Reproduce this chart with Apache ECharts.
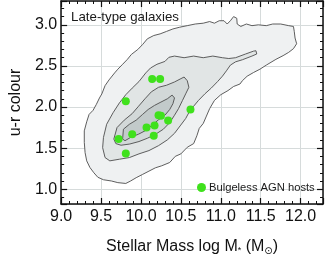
<!DOCTYPE html>
<html><head><meta charset="utf-8">
<script src="https://cdn.jsdelivr.net/npm/echarts@6/dist/echarts.min.js"></script>
<style>html,body{margin:0;padding:0;background:#fff}#c{width:325px;height:261px}</style>
</head><body><div id="c"></div>
<script>
// Bulgeless AGN hosts: stellar mass (log M*) and u-r colour
const agnMass   = [10.14, 10.24, 9.81, 10.62, 10.22, 10.25, 10.34, 10.17, 10.07, 9.89, 10.16, 9.72, 9.81];
const agnColour = [2.34, 2.34, 2.07, 1.97, 1.90, 1.895, 1.835, 1.775, 1.75, 1.67, 1.65, 1.61, 1.435];

// Late-type galaxy density contours (outer -> inner), [log M*, u-r]
const contour1 = [[9.29,1.57],[9.29,1.71],[9.32,1.82],[9.35,1.91],[9.40,1.96],[9.44,2.03],[9.48,2.11],[9.51,2.16],[9.55,2.26],[9.60,2.33],[9.67,2.415],[9.71,2.46],[9.77,2.52],[9.83,2.58],[9.88,2.64],[9.96,2.70],[10.02,2.76],[10.08,2.83],[10.16,2.87],[10.24,2.89],[10.32,2.92],[10.40,2.95],[10.48,2.97],[10.58,2.99],[10.68,3.01],[10.78,3.02],[10.86,3.04],[10.92,3.02],[10.98,3.05],[11.04,3.05],[11.08,3.01],[11.12,3.05],[11.16,3.10],[11.20,3.08],[11.205,3.01],[11.25,2.98],[11.32,3.01],[11.39,2.99],[11.47,3.00],[11.57,2.99],[11.65,3.01],[11.75,3.01],[11.85,2.99],[11.91,2.98],[11.92,2.92],[11.93,2.84],[11.95,2.77],[11.91,2.71],[11.85,2.665],[11.78,2.625],[11.69,2.58],[11.57,2.51],[11.49,2.46],[11.41,2.42],[11.33,2.375],[11.27,2.32],[11.24,2.28],[11.16,2.25],[11.09,2.20],[11.00,2.15],[10.92,2.08],[10.86,1.98],[10.82,1.89],[10.78,1.80],[10.73,1.74],[10.70,1.65],[10.66,1.555],[10.58,1.51],[10.50,1.43],[10.43,1.40],[10.36,1.325],[10.26,1.285],[10.18,1.26],[10.10,1.22],[10.02,1.18],[9.94,1.14],[9.87,1.10],[9.81,1.07],[9.71,1.08],[9.63,1.10],[9.53,1.115],[9.46,1.145],[9.41,1.20],[9.36,1.265],[9.32,1.345],[9.30,1.445]];
const contour2 = [[9.53,1.63],[9.57,1.79],[9.65,1.93],[9.73,2.05],[9.81,2.15],[9.89,2.23],[9.975,2.31],[10.06,2.415],[10.12,2.475],[10.20,2.52],[10.30,2.555],[10.35,2.605],[10.42,2.62],[10.54,2.60],[10.66,2.62],[10.78,2.60],[10.90,2.62],[11.02,2.60],[11.10,2.59],[11.185,2.60],[11.31,2.645],[11.41,2.68],[11.44,2.685],[11.45,2.645],[11.39,2.62],[11.27,2.575],[11.185,2.55],[11.12,2.51],[11.07,2.44],[11.02,2.375],[10.96,2.31],[10.88,2.23],[10.80,2.16],[10.72,2.08],[10.66,2.01],[10.61,1.95],[10.56,1.86],[10.49,1.77],[10.42,1.68],[10.33,1.60],[10.22,1.53],[10.10,1.47],[9.975,1.43],[9.855,1.385],[9.73,1.365],[9.61,1.345],[9.55,1.385],[9.52,1.505]];
const contour3 = [[9.66,1.61],[9.70,1.75],[9.79,1.84],[9.89,1.92],[9.97,2.01],[10.05,2.10],[10.13,2.185],[10.22,2.24],[10.32,2.265],[10.42,2.305],[10.49,2.34],[10.54,2.365],[10.58,2.32],[10.60,2.24],[10.56,2.16],[10.52,2.08],[10.47,1.98],[10.42,1.90],[10.36,1.81],[10.28,1.73],[10.185,1.67],[10.08,1.62],[9.975,1.58],[9.86,1.55],[9.75,1.535],[9.685,1.555]];
const contour4 = [[9.77,1.61],[9.78,1.73],[9.855,1.79],[9.94,1.84],[10.02,1.91],[10.09,1.97],[10.17,2.02],[10.25,2.06],[10.33,2.10],[10.39,2.145],[10.42,2.11],[10.40,2.04],[10.36,1.97],[10.30,1.90],[10.22,1.845],[10.14,1.78],[10.06,1.715],[9.97,1.67],[9.87,1.63],[9.80,1.59]];

const contours = [contour1, contour2, contour3, contour4];
const contourFills = ['#eff1f2', '#e1e5e5', '#d2d8d8', '#c2caca'];

const FONT = 'Liberation Sans, Arial, Helvetica, sans-serif';
const chart = echarts.init(document.getElementById('c'), null, {renderer: 'canvas'});

function polySeries(poly, fill) {
  return {
    type: 'custom', coordinateSystem: 'cartesian2d', xAxisIndex: 0, yAxisIndex: 0,
    data: poly, encode: {x: 0, y: 1}, silent: true, clip: true, z: 2,
    renderItem: function (params, api) {
      if (params.dataIndex !== 0) return;
      const pts = poly.map(p => api.coord(p));
      return {type: 'polygon', shape: {points: pts},
        style: {fill: fill, stroke: '#4d4d4d', lineWidth: 0.9}};
    }
  };
}

const tickCommon = {show: true, inside: true, length: 6, lineStyle: {color: '#111', width: 1.2}};
const minorCommon = {show: true, splitNumber: 5, length: 3, lineStyle: {color: '#111', width: 1}};
const lineCommon = {show: true, onZero: false, lineStyle: {color: '#111', width: 1.5}};

const XMIN = 9.0, XMAX = 12.28, YMIN = 0.82, YMAX = 3.29;

const option = {
  animation: false,
  backgroundColor: '#fff',
  grid: {left: 51, right: 2, top: 1, bottom: 56, containLabel: false},
  title: {text: 'Late-type galaxies', left: 66, top: 6,
    textStyle: {fontFamily: FONT, fontSize: 13.3, fontWeight: 'normal', color: '#1a1a1a'}},
  legend: {show: true, left: 192, top: 177, itemWidth: 9, itemHeight: 9, itemGap: 4,
    data: [{name: 'Bulgeless AGN hosts', icon: 'circle'}],
    textStyle: {fontFamily: FONT, fontSize: 11.2, color: '#1a1a1a', padding: [0, 0, 0, -2]}},
  xAxis: [{
    type: 'value', min: XMIN, max: XMAX, interval: 0.5, position: 'bottom',
    axisLine: lineCommon, axisTick: tickCommon, minorTick: minorCommon,
    splitLine: {show: true, lineStyle: {color: '#d6dbdb', width: 1}},
    axisLabel: {show: true, margin: 5, showMaxLabel: false, fontFamily: FONT, fontSize: 16, color: '#111',
      formatter: v => v.toFixed(1)},
    name: '{t|Stellar Mass log M}{s|*}{t| (M}{o|⊙}{t|)}', nameLocation: 'middle', nameGap: 33,
    nameTextStyle: {rich: {
      t: {fontFamily: FONT, fontSize: 16, color: '#111'},
      s: {fontFamily: FONT, fontSize: 9, color: '#111', padding: [9, 0, 0, 0]},
      o: {fontFamily: 'DejaVu Sans', fontSize: 10, color: '#111', padding: [9, 0, 0, 0]}
    }}
  }, {
    type: 'value', min: XMIN, max: XMAX, interval: 0.5, position: 'top',
    axisLine: lineCommon, axisTick: tickCommon, minorTick: minorCommon,
    splitLine: {show: false}, axisLabel: {show: false}
  }],
  yAxis: [{
    type: 'value', min: YMIN, max: YMAX, splitNumber: 5, position: 'left',
    axisLine: lineCommon, axisTick: tickCommon, minorTick: minorCommon,
    splitLine: {show: true, lineStyle: {color: '#d6dbdb', width: 1}},
    axisLabel: {show: true, margin: 4, showMinLabel: false, showMaxLabel: false,
      fontFamily: FONT, fontSize: 16, color: '#111', formatter: v => v.toFixed(1)},
    name: 'u-r colour', nameLocation: 'middle', nameGap: 33, nameRotate: 90,
    nameTextStyle: {fontFamily: FONT, fontSize: 16, color: '#111'}
  }, {
    type: 'value', min: YMIN, max: YMAX, splitNumber: 5, position: 'right',
    axisLine: lineCommon, axisTick: tickCommon, minorTick: minorCommon,
    splitLine: {show: false}, axisLabel: {show: false}
  }],
  series: contours.map((c, i) => polySeries(c, contourFills[i])).concat([{
    name: 'Bulgeless AGN hosts', type: 'scatter', xAxisIndex: 0, yAxisIndex: 0,
    data: agnMass.map((m, i) => [m, agnColour[i]]),
    symbol: 'circle', symbolSize: 8, z: 5,
    itemStyle: {color: '#3fe11c', opacity: 1}
  }])
};
chart.setOption(option);
</script>
</body></html>
